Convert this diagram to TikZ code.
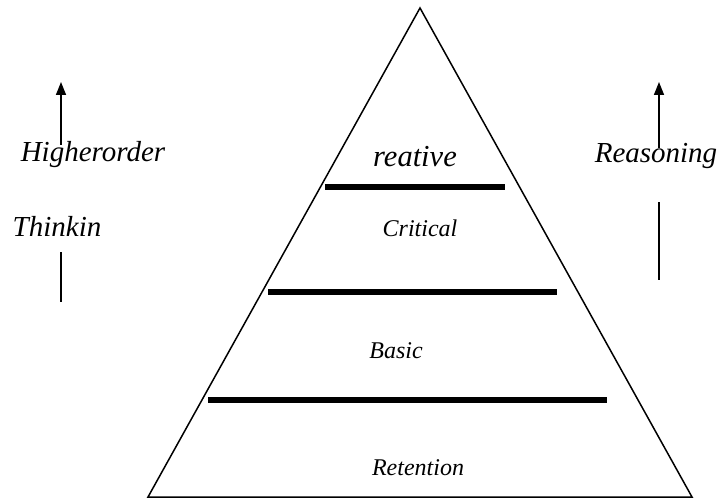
\documentclass[tikz,border=0pt]{standalone}
\usepackage{fontspec}
\setmainfont{Liberation Serif}
\usetikzlibrary{arrows.meta}
\begin{document}
\begin{tikzpicture}[x=1pt,y=-1pt,
  outline/.style={line width=1.5pt},
  bar/.style={line width=5.5pt},
  bigtxt/.style={anchor=base,inner sep=0pt,font=\fontsize{29}{31}\selectfont\itshape},
  smalltxt/.style={anchor=base,inner sep=0pt,font=\fontsize{24}{26}\selectfont\itshape},
  uparrow/.style={line width=1.5pt,-{Triangle[width=10pt,length=13pt]}}]
\useasboundingbox (0,0) rectangle (724,500);
% pyramid
\coordinate (apex) at (420,8);
\coordinate (bl) at (148,497);
\coordinate (br) at (692,497);
\draw[outline,line join=miter] (apex) -- (bl) -- (br) -- cycle;
% bars
\coordinate (b1l) at (325,187); \coordinate (b1r) at (505,187);
\coordinate (b2l) at (268,292); \coordinate (b2r) at (557,292);
\coordinate (b3l) at (208,400); \coordinate (b3r) at (607,400);
\draw[bar] (b1l) -- (b1r);
\draw[bar] (b2l) -- (b2r);
\draw[bar] (b3l) -- (b3r);
% labels inside
\node[bigtxt,font=\fontsize{30.5}{32}\selectfont\itshape] (creative) at (415,167) {reative};
\node[smalltxt] (critical) at (420,237) {Critical};
\node[smalltxt] (basic) at (396,358) {Basic};
\node[smalltxt] (retention) at (418,475) {Retention};
% left side
\node[bigtxt] (higher) at (93,162) {Higherorder};
\node[bigtxt] (thinkin) at (57,237) {Thinkin};
\coordinate (la0) at (61,145); \coordinate (la1) at (61,82);
\draw[uparrow] (la0) -- (la1);
\coordinate (ll0) at (61,302); \coordinate (ll1) at (61,252);
\draw[outline] (ll0) -- (ll1);
% right side
\node[bigtxt] (reasoning) at (656,163) {Reasoning};
\coordinate (ra0) at (659,148); \coordinate (ra1) at (659,82);
\draw[uparrow] (ra0) -- (ra1);
\coordinate (rl0) at (659,280); \coordinate (rl1) at (659,202);
\draw[outline] (rl0) -- (rl1);
\end{tikzpicture}
\end{document}
